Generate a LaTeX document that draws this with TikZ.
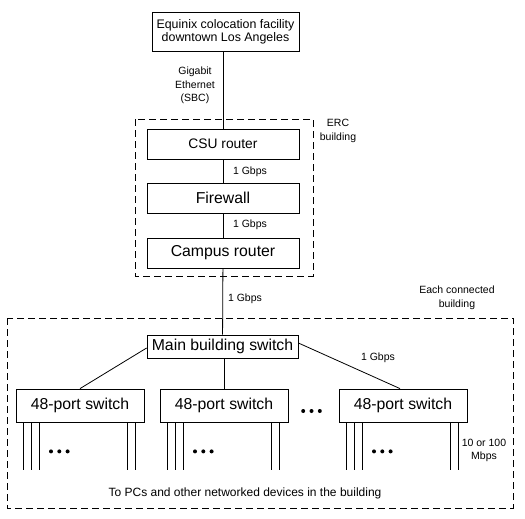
\documentclass[tikz,border=0pt]{standalone}
\usepackage{fontspec}
\setmainfont{Liberation Sans}
\begin{document}
\begin{tikzpicture}[x=1pt,y=-1pt,
  box/.style={draw, line width=0.8pt, inner sep=0pt, align=center, font=\fontsize{15.8}{18}\selectfont},
  swbox/.style={box, minimum width=128pt, minimum height=33pt},
  lbl/.style={inner sep=0pt, align=center, font=\fontsize{10.5}{13.5}\selectfont},
  region/.style={draw, line width=0.8pt, dash pattern=on 7pt off 4pt},
  wire/.style={line width=0.8pt}]
\useasboundingbox (0,0) rectangle (525,519);

% top box
\node[box, minimum width=147pt, minimum height=39pt, font=\fontsize{12.4}{12.6}\selectfont] (equinix) at (225.5,31.5)
  {Equinix colocation facility\\downtown Los Angeles};

% ERC building
\draw[region] (135,119) rectangle (313,276);
\node[box, minimum width=152pt, minimum height=30pt, font=\fontsize{13.8}{16}\selectfont] (csu) at (223,144) {CSU router};
\node[box, minimum width=152pt, minimum height=30pt] (fw) at (223,198) {Firewall};
\node[box, minimum width=152pt, minimum height=30pt] (campus) at (223,253) {Campus router};

% connected building
\draw[region] (7,318) rectangle (513,508);
\node[box, minimum width=151pt, minimum height=23pt] (main) at (222.5,346.5) {Main building switch};
\node[swbox] (sw1) at (80,405.5) {48-port switch};
\node[swbox] (sw2) at (224,405.5) {48-port switch};
\node[swbox] (sw3) at (403,405.5) {48-port switch};

% connectors
\draw[wire] (equinix.south -| csu.north) -- (csu.north);
\draw[wire] (csu) -- (fw);
\draw[wire] (fw) -- (campus);
\draw[wire] (campus) -- (main);
\draw[wire] ([yshift=-1.5pt]main.west) -- (sw1.north);
\draw[wire] (main.south -| sw2.north) -- (sw2.north);
\draw[wire] ([yshift=3.5pt]main.east) -- ([xshift=-3pt]sw3.north);

% ports and dots
\foreach \s in {sw1,sw2,sw3}{
  \foreach \dx in {8,16,24,112,120}
    \draw[wire] ([xshift=\dx pt]\s.south west) -- ++(0,-48pt);
  \foreach \dx in {35.4,43.7,52}
    \fill ([xshift=\dx pt, yshift=-29pt]\s.south west) circle (2pt);
}
\foreach \x in {303.2,311.5,319.8}
  \fill (\x,411) circle (2pt);

% labels
\node[lbl] (lgig) at (195,85.5) {Gigabit\\Ethernet\\(SBC)};
\node[lbl] (lerc) at (338,131) {ERC\\building};
\node[lbl] (l1) at (250,172) {1 Gbps};
\node[lbl] (l2) at (250,225) {1 Gbps};
\node[lbl] (l3) at (245,299) {1 Gbps};
\node[lbl] (leach) at (457,298) {Each connected\\building};
\node[lbl] (l4) at (378,358) {1 Gbps};
\node[lbl] (lmbps) at (484,450.5) {10 or 100\\Mbps};
\node[lbl, font=\fontsize{12}{14}\selectfont] (lpcs) at (245,493) {To PCs and other networked devices in the building};
\end{tikzpicture}
\end{document}
